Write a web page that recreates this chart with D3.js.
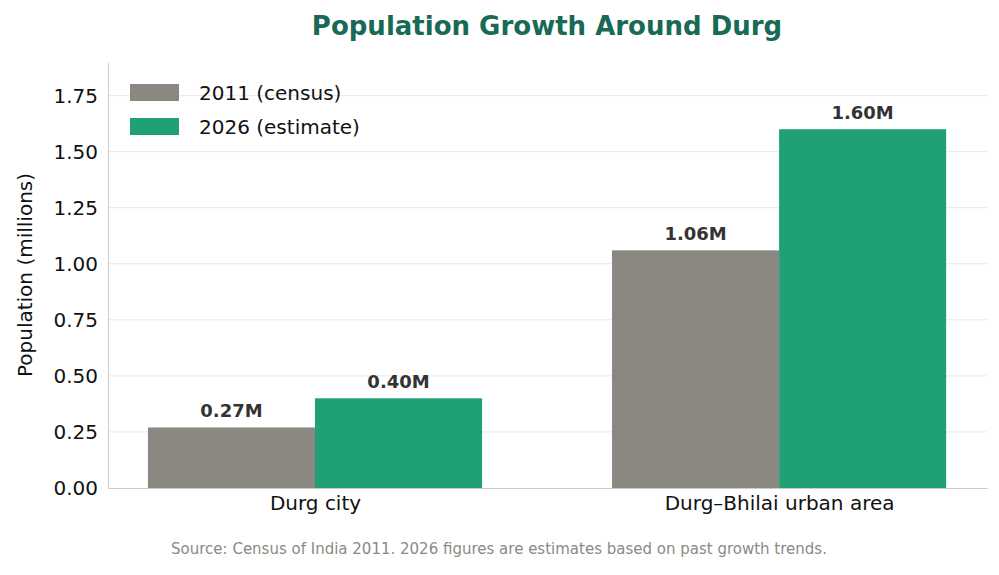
<!DOCTYPE html>
<html><head><meta charset="utf-8">
<script src="https://cdn.jsdelivr.net/npm/d3@7"></script>
<style>body{margin:0;background:#fff}text{font-family:"DejaVu Sans",sans-serif}</style>
</head><body>
<script>
// data
var categories = ["Durg city", "Durg\u2013Bhilai urban area"];
var series = ["2011 (census)", "2026 (estimate)"];
var pop2011 = [0.27, 1.06];
var pop2026 = [0.40, 1.60];
var yTicks = [0, 0.25, 0.5, 0.75, 1.0, 1.25, 1.5, 1.75];
var colors = ["#8a8881", "#1fa077"];

var svg = d3.select("body").append("svg").attr("width", 999).attr("height", 575);

var x = d3.scaleLinear().domain([-0.446, 1.448]).range([108, 987]);
var y = d3.scaleLinear().domain([0, 1.9]).range([488, 62]);
var bw = 0.36;

// grid
svg.selectAll(".grid").data(yTicks.slice(1)).enter().append("line")
    .attr("x1", 108).attr("x2", 987)
    .attr("y1", d => y(d)).attr("y2", d => y(d))
    .attr("stroke", "#e8e8e8").attr("stroke-width", 1);

// bars
[pop2011, pop2026].forEach(function (vals, s) {
    var off = s === 0 ? -bw : 0;
    svg.selectAll(".b" + s).data(vals).enter().append("rect")
        .attr("x", (d, i) => x(i + off))
        .attr("width", x(bw) - x(0))
        .attr("y", d => y(d))
        .attr("height", d => y(0) - y(d))
        .attr("fill", colors[s]);
    svg.selectAll(".l" + s).data(vals).enter().append("text")
        .attr("x", (d, i) => x(i + off + bw / 2))
        .attr("y", d => y(d) - 10)
        .attr("text-anchor", "middle")
        .attr("font-size", 18).attr("font-weight", "bold").attr("fill", "#333")
        .text(d => d.toFixed(2) + "M");
});

// axes
var ya = svg.append("g").attr("transform", "translate(108,0)")
    .call(d3.axisLeft(y).tickValues(yTicks).tickFormat(d3.format(".2f")).tickSize(0).tickPadding(10));
ya.select(".domain").attr("stroke", "#ccc");
ya.selectAll("text").attr("font-size", 20).attr("fill", "#111").attr("font-family", "DejaVu Sans");

var xa = svg.append("g").attr("transform", "translate(0,488)")
    .call(d3.axisBottom(x).tickValues([0, 1]).tickFormat((d, i) => categories[i]).tickSize(0).tickPadding(8));
xa.select(".domain").attr("stroke", "#ccc");
xa.selectAll("text").attr("font-size", 20).attr("fill", "#111").attr("font-family", "DejaVu Sans");

svg.append("text").attr("transform", "translate(32,275) rotate(-90)")
    .attr("text-anchor", "middle").attr("font-size", 20).attr("fill", "#111")
    .text("Population (millions)");

svg.append("text").attr("x", 547).attr("y", 35).attr("text-anchor", "middle")
    .attr("font-size", 26).attr("font-weight", "bold").attr("fill", "#186a55")
    .text("Population Growth Around Durg");

// legend
series.forEach(function (s, i) {
    svg.append("rect").attr("x", 130).attr("y", 84 + i * 34).attr("width", 49).attr("height", 17).attr("fill", colors[i]);
    svg.append("text").attr("x", 199).attr("y", 100 + i * 34).attr("font-size", 20).attr("fill", "#111").text(s);
});

svg.append("text").attr("x", 499).attr("y", 554).attr("text-anchor", "middle")
    .attr("font-size", 15).attr("fill", "#8a8a85")
    .text("Source: Census of India 2011. 2026 figures are estimates based on past growth trends.");
</script>
</body></html>
